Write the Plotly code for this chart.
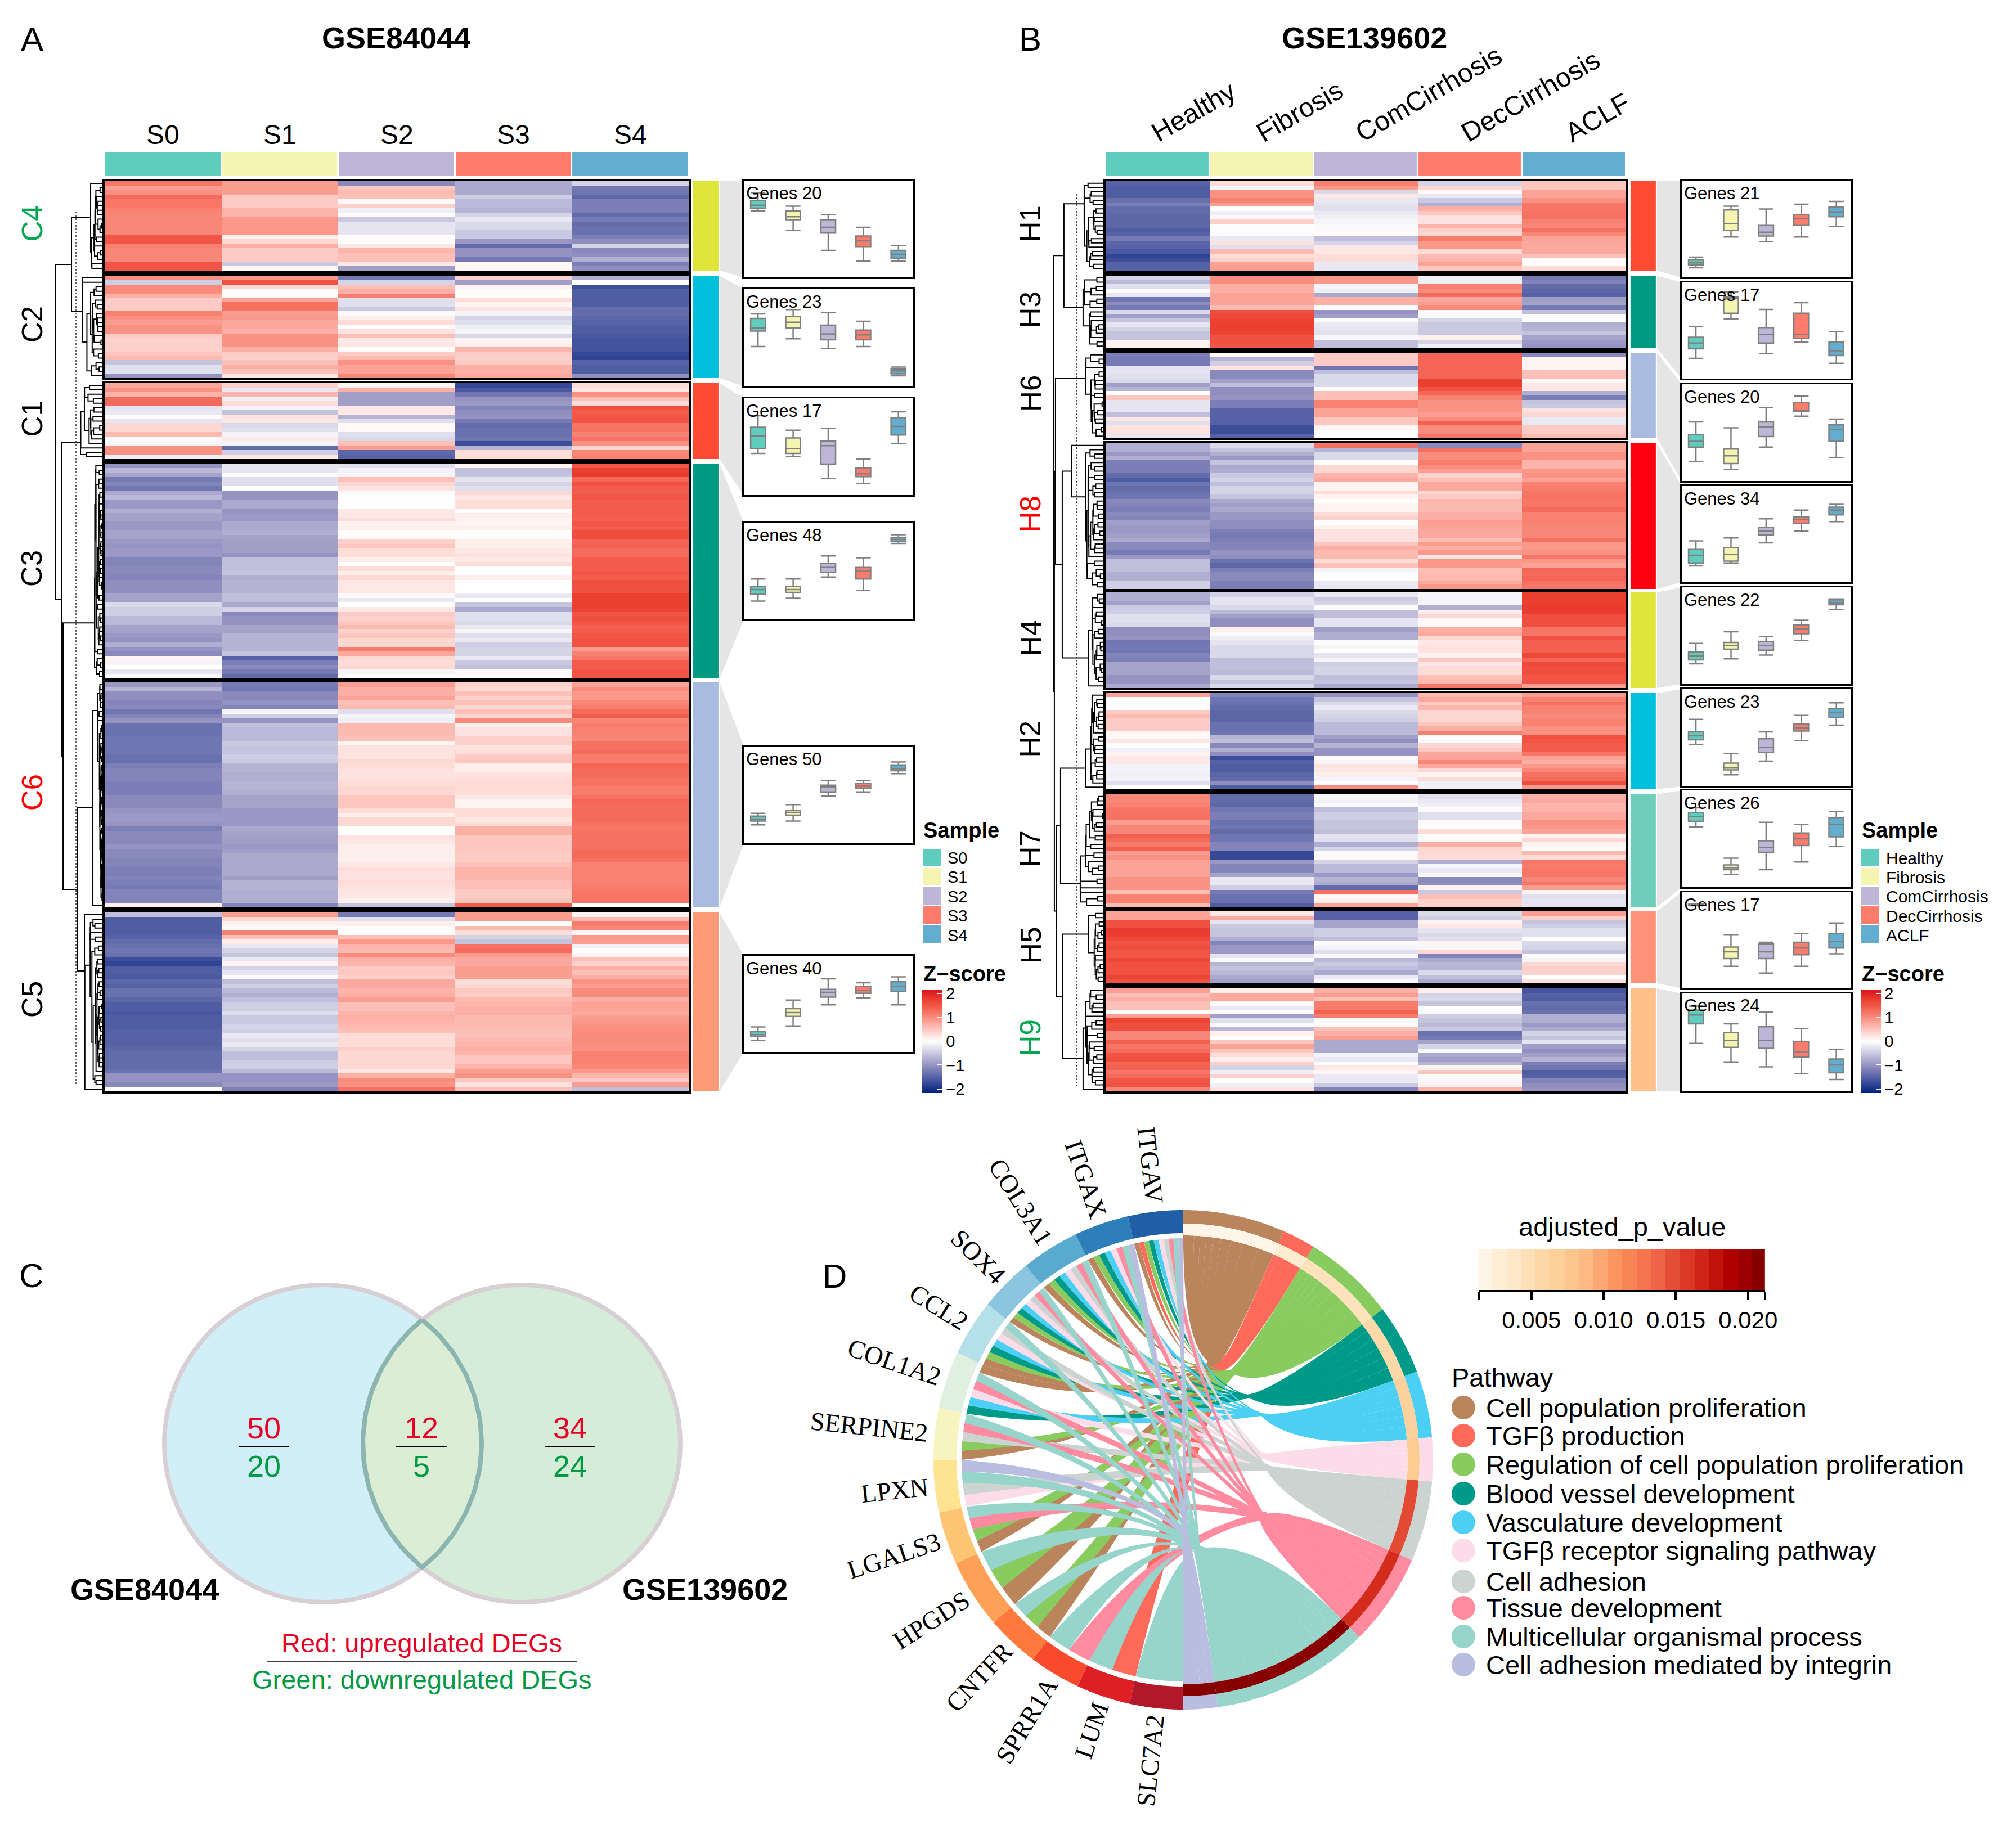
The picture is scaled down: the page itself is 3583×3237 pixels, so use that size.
import math
import numpy as np
import plotly.graph_objects as go
from plotly.colors import sample_colorscale

W, H = 3583, 3237
PAGE_PAD = 8          # the page keeps its default body margin around the figure
KX = .9939            # horizontal correction for the way the page is photographed
FW, FH = W - 2 * PAGE_PAD, H - 2 * PAGE_PAD
SANS = "Liberation Sans"
SERIF = "Liberation Serif"

# ---------------- data: sample groups ----------------
SAMPLES_A = ["S0", "S1", "S2", "S3", "S4"]
SAMPLES_B = ["Healthy", "Fibrosis", "ComCirrhosis", "DecCirrhosis", "ACLF"]
SAMPLE_COLORS = ["#5ECDBD", "#F5F4B0", "#BDB6D6", "#FF7B6B", "#63ADCF"]

# ---------------- data: heatmap rows (z-scores) ----------------
C4 = [[1.2,.85,-1.1,-.8,-.4],[.85,.85,.5,-.8,-1.25],[.95,.85,.6,-.8,-1.3],[1.3,.45,.55,-.45,-1.45],[1.2,.45,.05,-.65,-1.2],
[1.2,.45,.4,-.65,-1.2],[1.1,.65,-.15,-.7,-1.2],[1.05,.65,.03,-.4,-1.4],[1.05,.9,-.5,-.2,-1.25],[1.05,.9,-.25,-.35,-1.4],
[1.05,.9,-.25,-.35,-1.35],[1.05,.9,-.25,-.5,-1.35],[1.5,.15,.03,-.5,-1.2],[1.5,.35,.02,-.95,-1.05],[1.1,.7,.2,-1.4,-.4],
[1.05,.45,.65,-1.0,-1.1],[1.05,.45,.55,-1.0,-1.05],[1.05,.45,.55,-1.25,-.75],[1.5,-.5,.2,.07,-1.2],[1.5,.05,-.9,.07,-1.05]]
C2 = [[.95,.9,-1.25,.4,-.75],[-.45,1.55,-.4,-.9,0],[1.0,.35,.55,.1,-1.7],[1.0,.03,.7,.03,-1.55],[.7,.03,1.1,.03,-1.55],
[.45,.8,-.3,.3,-1.55],[.45,1.25,-.3,.1,-1.55],[.45,1.25,-.5,.25,-1.4],[1.1,.85,-.05,-.1,-1.4],[.95,.9,.15,-.4,-1.45],
[.85,.75,.3,-.3,-1.5],[.95,.75,.03,-.15,-1.55],[.95,.7,.25,-.1,-1.55],[.45,.95,.55,-.35,-1.6],[.4,.95,.2,.1,-1.65],
[.4,.95,.2,.15,-1.65],[.4,.7,.03,.65,-1.65],[.5,.45,.45,.45,-1.75],[.6,.4,.6,.4,-1.8],[-.55,.55,.95,.45,-1.5],
[-.3,.7,.8,.7,-1.55],[-.3,.55,.8,.7,-1.55],[-1.0,.2,1.05,.75,-1.05]]
C1 = [[.75,.4,.1,-1.75,.3],[.95,-.2,.7,-1.6,.2],[.65,.65,-.9,-1.3,.95],[1.3,-.15,-.9,-1.0,.55],[1.3,.3,-.9,-.95,.3],
[-.25,-.1,.2,-1.15,1.55],[-.2,-.55,.2,-1.05,1.45],[.03,.25,-.7,-1.0,1.5],[-.25,.2,-.3,-1.25,1.5],[.35,-.35,.05,-1.4,1.2],
[.35,-.3,.05,-1.35,1.25],[.6,-.1,-.3,-1.35,1.1],[-.05,.2,-.35,-1.3,1.25],[-.1,-.1,.55,-1.7,.95],[.95,-1.4,.85,-.7,.35],
[.95,-.45,-1.45,.3,1.05],[-.15,.2,-1.5,.3,1.1]]
C3 = [[-1.0,-.25,-.3,.1,1.5],[-.65,-.25,-.12,-.6,1.75],[-.85,-.05,-.1,-.55,1.8],[-1.25,-.3,.55,-.25,1.35],[-1.15,-.3,.35,-.4,1.55],
[-1.3,0,.25,-.3,1.45],[-.8,-1.0,-.05,.35,1.45],[-.65,-1.0,0,.2,1.5],[-.95,-.8,0,.3,1.45],[-.95,-.8,0,.3,1.45],
[-.75,-1.0,.2,0,1.45],[-.85,-.95,.2,.15,1.45],[-.85,-.95,.3,.1,1.4],[-.95,-.8,.1,.1,1.5],[-.95,-.8,.15,.15,1.45],
[-.85,-.75,0,0,1.6],[-.85,-.85,.05,.05,1.6],[-.95,-.9,.4,.15,1.35],[-1,-.9,.5,.15,1.4],[-.95,-.9,.3,.2,1.3],
[-.95,-1,.3,.25,1.3],[-1.15,-.6,.15,.2,1.45],[-1.15,-.6,0,.3,1.45],[-1.1,-.6,.3,0,1.45],[-1.1,-.55,.15,0,1.5],
[-1.15,-.75,.35,.15,1.45],[-1.05,-.7,.2,0,1.6],[-1.05,-.7,.2,0,1.55],[-1.05,-.7,.2,0,1.55],[-.85,-.6,.05,-.2,1.75],
[-.85,-.6,-.2,0,1.75],[-.35,-.8,0,-.55,1.75],[-.45,-.4,.2,-.8,1.7],[-.45,-1.1,.45,-.3,1.5],[-.65,-1,.4,-.3,1.6],
[-.65,-1,.5,-.35,1.5],[-.85,-.85,.6,-.2,1.4],[-.85,-.85,.4,-.1,1.45],[-.95,-.7,.5,-.3,1.5],[-1,-.7,.35,-.2,1.55],
[-.75,-.7,.35,-.45,1.55],[-1,-.7,1.15,-.4,.85],[-1.1,-.55,.75,-.4,1.1],[.1,-1.5,.35,-.2,1.2],[-.1,-1.2,.3,-.5,1.45],
[0,-1.1,.35,-.6,1.45],[-.25,-1.25,-.1,.05,1.5],[-.08,-1.4,0,.02,1.5]]
C6 = [[-.95,-1.25,.85,.4,.8],[-.7,-1.3,.7,.35,1.0],[-1.05,-1.1,.7,.55,.9],[-1.05,-1.1,.8,.4,.9],[-1.15,-1.0,.55,.55,1.05],
[-1.1,-1.15,.6,.35,1.15],[-1.3,-.1,-.3,.55,1.3],[-1.15,-.45,-.1,.35,1.45],[-1,-1,-.15,1.0,1.05],[-1.35,-.6,.6,.15,1.15],
[-1.35,-.65,.6,.25,1.1],[-1.35,-.65,.6,.25,1.1],[-1.3,-.65,.55,.4,1.05],[-1.3,-.5,.1,.4,1.25],[-1.3,-.55,.25,.25,1.25],
[-1.3,-.55,.25,.3,1.3],[-1.35,-.45,.25,.45,1.15],[-1.35,-.5,.35,.5,1.15],[-1.2,-.7,.3,.15,1.35],[-1.15,-.7,.25,.15,1.3],
[-1.15,-.75,.25,.25,1.3],[-1.15,-.75,.25,.3,1.25],[-1.2,-.7,.3,.3,1.25],[-1.2,-.7,.35,.3,1.15],[-1.2,-.75,.35,.3,1.15],
[-1.1,-.85,.5,.2,1.25],[-1.1,-.85,.5,.1,1.35],[-1.1,-.85,.5,.1,1.3],[-1,-.95,.3,.3,1.3],[-.95,-.95,.15,.3,1.3],
[-.95,-.95,.35,.2,1.3],[-1,-.95,.35,.3,1.25],[-1.2,-.8,.02,.7,1.2],[-1.1,-.85,.02,.7,1.25],[-1.1,-.9,.25,.5,1.25],
[-1.1,-.9,.2,.5,1.25],[-1.0,-.95,.15,.5,1.25],[-1.1,-.9,.15,.5,1.3],[-1.1,-.8,.15,.45,1.3],[-1.15,-.8,.15,.45,1.25],
[-1.15,-.8,.2,.55,1.1],[-1.2,-.8,.3,.65,1.1],[-1.2,-.8,.25,.65,1.1],[-1.15,-.9,.25,.65,1.1],[-1.2,-.7,.3,.55,1.1],
[-1.25,-.7,.25,.55,1.15],[-1.15,-.75,.2,.45,1.2],[-1.15,-.75,.2,.45,1.2],[-1.15,-.75,.15,.5,1.2],[.12,-1.15,-.55,1.45,0]]
C5 = [[-.6,.85,-1.25,.85,.12],[-1.55,.35,-.3,.85,.6],[-1.55,.12,.15,0,1.15],[-1.55,.03,.03,.6,1.05],[-1.55,1.1,0,.3,.08],
[-1.5,.55,.55,-.4,.9],[-1.4,.15,.9,-.55,.85],[-1.35,-.2,.65,1.25,-.15],[-1.3,-.4,.6,1.3,-.03],[-1.35,-.55,1.0,.85,.1],
[-1.7,-.2,.7,.75,.55],[-1.8,.1,.65,.75,.4],[-1.55,-.4,.45,.85,.7],[-1.55,-.25,.5,.85,.55],[-1.6,-.05,.4,.85,.7],
[-1.45,-.6,.75,.3,.95],[-1.5,-.45,.75,.35,.85],[-1.35,-.65,.65,.5,1.0],[-1.35,-.75,.7,.45,1.0],[-1.45,-.6,.85,.6,.7],
[-1.55,-.45,.55,.65,.8],[-1.55,-.45,.55,.7,.8],[-1.6,-.3,.65,.7,.75],[-1.55,-.5,.7,.6,.85],[-1.55,-.5,.65,.6,.9],
[-1.55,-.4,.6,.6,.95],[-1.5,-.45,.55,.55,1.0],[-1.5,-.2,.3,.55,1.0],[-1.5,-.3,.3,.6,1.0],[-1.5,-.2,.3,.65,1.0],
[-1.45,-.4,.4,.7,.95],[-1.4,-.6,.35,.65,1.1],[-1.4,-.6,.35,.5,1.1],[-1.4,-.45,.35,.5,1.1],[-1.4,-.45,.35,.65,1.05],
[-1.35,-.65,.2,.85,.9],[-1.0,-1.0,.7,.95,.65],[-1.0,-1.0,1.0,.5,.45],[-1.1,-.95,.95,.25,.85],[.03,-1.2,1.25,.55,-.6]]

H1 = [[-1.5,.3,1.1,-.4,.5],[-1.55,-.1,.9,.35,.5],[-1.55,.95,-.35,.05,.8],[-1.55,.95,.2,-.2,.8],[-1.35,1.1,-.2,-.5,.95],
[-1.2,.85,-.25,-.75,1.2],[-1.4,0,-.3,.7,1.2],[-1.4,-.15,-.2,.5,1.25],[-1.45,.05,-.15,.25,1.25],[-1.45,.4,-.1,.25,1.1],
[-1.45,-.02,-.05,.65,1.05],[-1.55,-.02,.05,.4,1.25],[-1.5,-.05,.02,.35,1.05],[-1.25,-.2,-.6,1.15,.8],[-1.45,.25,-.4,.9,.75],
[-1.5,-.3,.2,.9,.75],[-1.6,.6,.2,.3,.75],[-1.8,.3,.3,.6,.55],[-1.7,.4,.3,.65,.03],[-1.5,.8,-.2,.8,-.03],[-1.5,.85,-.2,.5,.3]]
H3 = [[-.4,1.0,.9,-.15,-1.25],[-.65,1.0,.9,-.15,-1.15],[-.3,.7,-.1,1.1,-1.4],[-.02,.7,-.15,1.0,-1.45],[-.2,.8,-.8,1.3,-1.5],
[-1.3,.8,.7,.75,-.9],[-1.05,.8,.7,.85,-.85],[-1.25,.6,.03,1.0,-1.25],[-.35,1.6,-1.0,.03,-.6],[-.9,1.65,-.9,-.05,-.05],
[-.55,1.7,-.02,-.4,-.02],[-.25,1.75,-.2,-.5,-.75],[-.4,1.75,-.25,-.5,-.7],[-.55,1.7,-.3,-.5,-.55],[-.55,1.55,-.08,.15,-.85],
[.12,1.55,-.6,-.4,-.95],[.12,1.5,-.6,-.15,-1.0]]
H6 = [[-1.2,.03,.45,1.35,-1.1],[-1.25,-.7,.45,1.35,.1],[-1.25,-.45,.45,1.35,.1],[-.25,.25,-1.3,1.35,.1],[-.25,-1.1,-.6,1.35,.55],
[-.3,-1.1,-.35,1.35,.55],[-.35,-.9,-.35,1.75,.07],[-.9,-.6,-.35,1.75,.2],[-.7,-1.05,.02,1.55,.2],[0,-1.05,.55,1.35,-.75],
[.5,-1.0,.55,1.1,-1.2],[-.25,-1.2,1.1,.95,-.55],[-.25,-1.2,1.1,.95,-.5],[-.25,-1.5,.8,.95,.25],[-.6,-1.5,.8,.85,.35],
[.2,-1.5,.5,1.0,-.2],[-.3,-1.5,.5,1.4,-.2],[.25,-1.7,.1,1.0,.45],[.25,-1.7,.02,1.0,.45],[-.2,-1.5,.02,1.2,.6]]
H8 = [[-.75,-.35,1.25,-1.1,.8],[-.75,-.55,-.7,1.25,.8],[-.95,-.75,-.35,1.0,.95],[-.75,-.95,-.35,1.0,.95],[-1.2,-.55,0,1.15,.65],
[-1.2,-.8,.35,1.0,.65],[-1.2,-.75,.35,.85,.9],[-1.4,-.5,.65,.4,.95],[-1.55,-.4,.75,.55,.8],[-1.3,-.6,.1,.75,1.1],
[-1.4,-.4,.1,.75,1.15],[-1.35,-.4,.3,.35,1.2],[-1.3,-.55,.1,.45,1.25],[-1.1,-.8,0,.65,1.2],[-1.15,-.9,.1,.6,1.2],
[-1.2,-.8,.1,.6,1.3],[-1.1,-.95,.3,.7,1.1],[-1.15,-.95,.4,.7,1.1],[-.9,-1.05,0,.85,1.1],[-.95,-1.05,.1,.8,1.05],
[-.95,-1.2,.25,.75,1.05],[-.9,-1.25,.25,.75,1.05],[-.8,-1.2,.25,.55,1.25],[-1.1,-1.15,.5,.85,.9],[-1.1,-1.15,.7,.7,.9],
[-1.25,-1.0,.6,.9,.95],[-.95,-1.05,.6,.2,1.2],[-.6,-1.35,.3,.9,.9],[-.6,-1.45,.55,.9,.8],[-.6,-1.2,-.1,.55,1.35],
[-.75,-1.1,-.02,.6,1.3],[-.75,-1.1,-.02,.6,1.35],[-.45,-1.2,-.2,.75,1.25],[-.45,-1.2,-.2,.9,1.2]]
H4 = [[-.75,-.45,-.2,-.1,1.75],[-.75,-.25,-.5,-.1,1.75],[-.9,-.25,-.4,-.1,1.75],[-.5,-.35,-.02,-.75,1.8],[-.45,-.65,-.6,.15,1.8],
[-.3,-.9,-.6,.35,1.6],[-.3,-1.05,-.25,.05,1.6],[-.35,-1.05,-.25,.05,1.6],[-1.05,.15,-.9,.7,1.2],[-1.05,-.05,-.75,.75,1.2],
[-1.0,-.15,-.75,.35,1.55],[-1.3,-.25,-.03,.2,1.4],[-1.25,-.35,-.1,.25,1.4],[-1.3,-.35,-.02,.25,1.4],[-1.15,-.35,-.25,.12,1.65],
[-1.2,-.6,-.1,.5,1.35],[-.85,-.6,-.45,.2,1.65],[-.85,-.6,-.4,.3,1.6],[-.85,-.65,-.4,.3,1.6],[-1.0,-.35,-.6,.55,1.5],
[-1.0,-.55,-.55,.6,1.5],[-.8,-.35,-.8,1.2,.85]]
H2 = [[.8,-1.15,-1.0,.6,.85],[0,-1.3,-.55,.75,1.1],[.03,-1.35,-.35,.45,1.25],[0,-1.4,-.2,.65,1.1],[.45,-1.45,-.35,.35,1.1],
[.6,-1.45,-.4,.35,1.0],[.45,-1.45,-.45,.35,1.1],[.45,-1.35,-.65,.5,1.1],[.45,-1.35,-.65,.7,.95],[.07,-1.3,-.65,1.1,.95],
[.07,-.7,-.9,0,1.55],[.2,-.6,-1.05,-.05,1.5],[-.03,-1.1,-.7,.35,1.45],[-.15,-.75,-1.0,.5,1.45],[.1,-1.05,-1.0,.75,1.2],
[.2,-1.7,.05,.8,.8],[.2,-1.5,-.1,1.05,.7],[-.12,-1.55,.25,.75,.9],[-.12,-1.55,.2,.35,1.05],[-.15,-1.45,.15,.1,1.25],
[-.12,-1.4,-.12,.3,1.3],[-.3,-1.05,0,-.15,1.6],[0,-1.55,1.0,-.15,.9]]
H7 = [[1.05,-1.4,-.1,-.3,.7],[1.05,-1.4,-.12,-.2,.75],[1.1,-1.45,-.05,-.15,.65],[1.2,-1.3,-.6,.05,.65],[1.25,-1.2,-.45,-.3,.75],
[1.25,-1.2,-.45,-.3,.75],[.85,-1.35,-.55,.05,.95],[1.05,-1.3,-.55,0,.9],[1.05,-1.4,-.6,.3,.8],[1.4,-1.3,-.25,.02,.1],
[1.3,-1.3,-.3,.02,.35],[1.15,-1.15,-.75,.7,.1],[1.4,-1.15,-.4,.35,.02],[.85,-1.75,-.05,.35,.6],[.95,-1.75,.08,.3,.3],
[.8,-.95,-.4,-.75,1.2],[.8,-1.15,-.65,-.1,1.15],[.8,-1.15,-.65,-.2,1.2],[.8,-.85,-.95,-.08,1.2],[.95,-.2,-.7,-1.1,1.05],
[.95,-.2,-.8,-1.05,1.2],[.95,-.45,-1.4,.12,.85],[.55,-1.25,1.25,-.5,.1],[1.1,-1.35,.08,.55,-.3],[1.1,-1.35,.15,.4,-.25],
[.6,-1.55,.8,.4,-.25]]
H5 = [[.8,.2,-1.5,-.35,.85],[.8,.75,-1.5,-.45,.4],[1.55,-.25,-.85,.12,-.55],[1.55,-.5,-.85,.2,-.45],[1.8,-.55,-.45,-.25,-.3],
[1.75,-.55,-.45,-.35,-.3],[1.65,-.75,-.6,-.3,0],[1.5,-1.15,-.03,.1,-.35],[1.6,-.95,-.1,-.08,-.4],[1.5,-.95,-.3,.35,-.55],
[1.5,-.25,-.07,-1.15,.03],[1.65,-.05,-.65,-.8,-.1],[1.55,-.7,-.5,-.65,.35],[1.55,-.55,-.6,-.7,.4],[1.55,-.65,-.8,-.35,.4],
[1.7,-.8,-.2,-.6,0],[1.55,-.9,-.07,-.8,.25]]
H9 = [[.85,.15,.7,.15,-1.65],[.55,.75,.85,-.4,-1.5],[.7,.75,.55,-.35,-1.55],[.55,.03,1.15,-.55,-1.35],[.55,-.2,1.15,0,-1.4],
[-.02,0,1.4,.05,-1.35],[.85,-.9,1.15,-.45,-.75],[1.7,-.3,.02,-.55,-.75],[1.6,-.05,.02,-.65,-.95],[1.6,-.65,.55,-.5,-.8],
[1.05,.12,.7,-1.35,-.4],[1.05,0,.85,-1.25,-.55],[1.4,.5,-.8,-.85,-.25],[1.2,.8,-.8,-.4,-.9],[1.3,.5,-.8,-.05,-1.05],
[1.5,.3,-.12,-.8,-.9],[1.6,.15,-.2,-.9,-.7],[1.35,.4,.02,-.7,-1.2],[1.4,-.4,.2,.12,-1.3],[1.2,-.15,.08,.5,-1.55],
[1.3,.4,-.2,-.02,-1.5],[1.5,0,-.2,-.07,-1.15],[1.55,-.15,-.5,.12,-1.05],[1.05,.25,-1.15,.65,-1.0]]

# ---------------- data: box summaries, one row per sample group ----------------
# columns: upper whisker, q3, median, q1, lower whisker; level measured downward from the panel top
BOX_C4 = [[12,20,25,28,31],[26,31,37,40,51],[35,40,48,54,72],[48,57,62,68,83],[67,72,76,80,83]]
BOX_C2 = [[25.5,30,40,43,59],[21,28,34,40,51],[24,37,46,52,61],[33,42,47,52,59],[80,82,84,87,89]]
BOX_C1 = [[18,30,39,52,57],[33,41,52,57,60],[31,44,49,68,83],[63,72,78,81,88],[14,20,29,38,47]]
BOX_C3 = [[58,66,69,74,81],[58,66,69,72,78],[34,42,46,51,56],[36,46,50,58,70],[12,15,17,19,21]]
BOX_C6 = [[69,72,75,77,81],[60,66,68,71,77],[35,40,42,47,51],[35,38,41,43,47],[16,19,23,25,28]]
BOX_C5 = [[74,79,82,84,88],[46,55,59,63,73],[24,35,38,43,51],[28,32,36,39,44],[22,27,32,37,51]]
BOX_H1 = [[79,82,85,87,90],[26,30,44,51,58],[29,46,53,57,63],[24,35,39,46,58],[21,27,32,37,47]]
BOX_H3 = [[46,57,63,69,79],[10,15,17,32,38],[28,47,54,63,74],[21,32,54,58,62],[51,62,71,76,84]]
BOX_H6 = [[39,52,59,65,80],[45,67,74,82,88],[24,39,44,54,65],[12,19,27,28,33],[36,42,47,59,76]]
BOX_H8 = [[57,66,72,80,83],[54,64,71,78,80],[34,43,47,51,59],[25,32,35,39,47],[19,22,25,30,37]]
BOX_H4 = [[58,67,71,75,79],[46,57,60,64,74],[51,56,60,65,70],[34,39,43,48,55],[12,13,16,18,23]]
BOX_H2 = [[31,44,48,52,57],[66,76,81,83,88],[44,51,60,65,74],[27,36,40,43,53],[14,20,24,29,37]]
BOX_H7 = [[18,23,27,32,38],[70,77,80,82,87],[33,52,59,64,82],[35,44,50,57,74],[22,28,35,48,58]]
BOX_H5 = [[12,12.5,13,13.5,14],[44,57,62,69,77],[52,54,62,69,84],[43,52,58,65,77],[32,43,51,58,64]]
BOX_H9 = [[13,17,22,31,51],[31,40,48,55,70],[19,34,48,56,75],[36,49,60,65,82],[57,67,73,81,88]]

# ---------------- data: venn ----------------
VENN_UP = [50, 12, 34]
VENN_DOWN = [20, 5, 24]

# ---------------- data: chord ----------------
PATHWAYS = ["Cell population proliferation", "TGF\u03b2 production", "Regulation of cell population proliferation",
            "Blood vessel development", "Vasculature development", "TGF\u03b2 receptor signaling pathway",
            "Cell adhesion", "Tissue development", "Multicellular organismal process", "Cell adhesion mediated by integrin"]
PATHWAY_COLORS = ["#BA845D", "#FF6A5A", "#88CC60", "#009B88", "#4CCFF5", "#FDDCEA", "#CBD4D0", "#FF8BA0", "#97D4CB", "#B9BDDF"]
PATHWAY_SPAN = [23.7, 7.7, 21.5, 16.4, 15.5, 10.2, 18.7, 21.5, 36.8, 8.0]
PATHWAY_P = [.0016, .0032, .0045, .0056, .0066, .0072, .0150, .0165, .0207, .0208]
GENES = ["SLC7A2", "LUM", "SPRR1A", "CNTFR", "HPGDS", "LGALS3", "LPXN", "SERPINE2", "COL1A2", "CCL2", "SOX4", "COL3A1", "ITGAX", "ITGAV"]
GENE_COLORS = ["#B21829", "#DE1F26", "#F94A2E", "#FD7A3C", "#FEA055", "#FEC574", "#FEE391", "#F7F4BF", "#DFF0E0", "#B5DFE9", "#8BC6DE", "#5AA9CF", "#2C7FB8", "#205EA8"]
GENE_SPAN = [12.4, 12.6, 12.0, 12.4, 16.1, 12.3, 12.2, 12.0, 13.4, 13.1, 12.5, 13.5, 12.7, 12.8]
GENE_LINKS = [[8], [1, 8], [7, 8], [0, 2, 8], [0, 2, 8], [0, 2, 7, 8], [5, 6, 8, 9], [0, 2, 6, 7, 8], [3, 4, 5, 7, 8, 0],
              [0, 2, 3, 4, 5, 6, 8], [0, 2, 3, 4, 5, 6, 7, 8], [0, 2, 3, 4, 5, 6, 7, 8], [0, 2, 3, 4, 5, 7, 8, 9], [0, 1, 2, 3, 4, 5, 6, 7, 8, 9]]
# point where the ribbons of each pathway gather: angle (clockwise from top) and radius
HUB_ANGLE = [17, 22, 28, 45, 59, 87, 95, 125, 170, 178]
HUB_RADIUS = [178, 178, 177, 161, 159, 143, 150, 174, 160, 130]
P_STEPS = [.0018, .0028, .0038, .0048, .0058, .0068, .0078, .0088, .0098, .0108, .0118, .0128, .0138, .0148, .0158, .0168, .0178, .0188, .0198, .0208]
P_TICKS = [.00134, .005, .010, .015, .020, .02117]
P_TICK_TEXT = ["", "0.005", "0.010", "0.015", "0.020", ""]

# ---------------- colour scales ----------------
zmax = 2.17
def st(v):
    return (v + zmax) / (2 * zmax)
ZSCALE = [[0, "#00207F"], [st(-1), "#9693C2"], [st(0), "#FFFFFF"], [st(1), "#FA8C7D"], [st(1.5), "#F25545"], [st(1.75), "#EA4030"], [1, "#D7101C"]]
ORRD = [[0, "#FFF7EC"], [.125, "#FEE8C8"], [.25, "#FDD49E"], [.375, "#FDBB84"], [.5, "#FC8D59"], [.625, "#EF6548"], [.75, "#D7301F"], [.875, "#B30000"], [1, "#7F0000"]]
SAMPLE_SCALE = []
for i, c in enumerate(SAMPLE_COLORS):
    SAMPLE_SCALE += [[i / 5, c], [(i + 1) / 5, c]]


def fx(x):
    return (x / KX - PAGE_PAD) / FW


def fy(y):
    return 1 - (y - PAGE_PAD) / FH


fig = go.Figure()
layout = dict(width=FW, height=FH, margin=dict(l=0, r=0, t=0, b=0), paper_bgcolor="white", plot_bgcolor="rgba(0,0,0,0)",
              showlegend=False, boxmode="overlay", font=dict(family=SANS, color="black"))
annotations, shapes = [], []
axis_count = [1]

hidden = dict(showgrid=False, zeroline=False, showticklabels=False, ticks="", showline=False)
layout["xaxis"] = dict(domain=[0, 1], range=[PAGE_PAD * KX, (W - PAGE_PAD) * KX], visible=False, **{"anchor": "y"})
layout["yaxis"] = dict(domain=[0, 1], range=[H - PAGE_PAD, PAGE_PAD], visible=False, **{"anchor": "x"})


def new_axes(x0, y0, x1, y1, xr, yr, frame=0, **xextra):
    axis_count[0] += 1
    n = axis_count[0]
    base = dict(hidden)
    if frame:
        base.update(showline=True, mirror=True, linecolor="black", linewidth=frame)
    xa = dict(base, domain=[fx(x0), fx(x1)], range=xr, anchor=f"y{n}")
    xa.update(xextra)
    ya = dict(base, domain=[fy(y1), fy(y0)], range=yr, anchor=f"x{n}")
    layout[f"xaxis{n}"] = xa
    layout[f"yaxis{n}"] = ya
    return f"x{n}", f"y{n}"


def text(x, y, s, size, color="black", bold=False, xanchor="center", angle=0, family=SANS, yanchor="middle"):
    annotations.append(dict(xref="paper", yref="paper", x=fx(x), y=fy(y), text=f"<b>{s}</b>" if bold else s,
                            showarrow=False, xanchor=xanchor, yanchor=yanchor, textangle=angle, borderpad=0,
                            font=dict(family=family, size=size, color=color)))


def rect(x0, y0, x1, y1, color):
    shapes.append(dict(type="rect", xref="paper", yref="paper", x0=fx(x0), x1=fx(x1), y0=fy(y0), y1=fy(y1),
                       fillcolor=color, line=dict(width=0), layer="below"))


def poly(pts, color):
    d = "M " + " L ".join(f"{fx(px):.5f},{fy(py):.5f}" for px, py in pts) + " Z"
    shapes.append(dict(type="path", xref="paper", yref="paper", path=d, fillcolor=color, line=dict(width=0), layer="below"))


def row_tree(rows, y0, y1, x_right, x_root, seg_x, seg_y):
    """Join neighbouring rows by their distance and draw the result as a dendrogram."""
    rh = (y1 - y0) / len(rows)
    nodes = [dict(y=y0 + (i + .5) * rh, h=0.0, v=np.array(r, float), n=1) for i, r in enumerate(rows)]
    merges = []
    while len(nodes) > 1:
        ds = [np.linalg.norm(nodes[i]["v"] - nodes[i + 1]["v"]) for i in range(len(nodes) - 1)]
        i = int(np.argmin(ds))
        a, b = nodes[i], nodes[i + 1]
        h = max(ds[i], a["h"], b["h"]) + .02
        m = dict(y=(a["y"] + b["y"]) / 2, h=h, n=a["n"] + b["n"], v=(a["v"] * a["n"] + b["v"] * b["n"]) / (a["n"] + b["n"]))
        merges.append((a, b, m))
        nodes[i:i + 2] = [m]
    top = nodes[0]["h"]
    hx = lambda hh: x_right - (x_right - x_root) * (hh / top) ** .6
    for a, b, m in merges:
        seg_x += [hx(a["h"]), hx(m["h"]), hx(m["h"]), hx(b["h"]), None]
        seg_y += [a["y"], a["y"], b["y"], b["y"], None]
    return hx(nodes[0]["h"]), nodes[0]["y"]


def top_tree(spec, roots, seg_x, seg_y):
    if isinstance(spec, str):
        return roots[spec]
    x, l, r = spec
    xa, ya = top_tree(l, roots, seg_x, seg_y)
    xb, yb = top_tree(r, roots, seg_x, seg_y)
    seg_x += [xa, x, x, xb, None]
    seg_y += [ya, ya, yb, yb, None]
    return x, (ya + yb) / 2


def panel(cfg):
    x0, x1 = cfg["x"]
    seg_x, seg_y = [], []
    roots = {}
    xa, ya = new_axes(x0, 271, x1, 312, [-.5, 4.5], [-.5, .5])
    fig.add_trace(go.Heatmap(z=[[0, 1, 2, 3, 4]], x=[0, 1, 2, 3, 4], y=[0], colorscale=SAMPLE_SCALE, zmin=0, zmax=5 - 1e-9,
                             showscale=False, xgap=3, hoverinfo="skip", xaxis=xa, yaxis=ya))
    for name, rows, (y0, y1), rootx, color, lc, bx, boxes, (py0, py1) in cfg["clusters"]:
        xa, ya = new_axes(x0, y0, x1, y1, [-.5, 4.5], [len(rows) - .5, -.5], frame=3.5)
        fig.add_trace(go.Heatmap(z=rows, coloraxis=cfg["ca"], hoverinfo="skip", xaxis=xa, yaxis=ya))
        roots[name] = row_tree(rows, y0, y1, x0 - 2, rootx, seg_x, seg_y)
        text(cfg["lab_x"], (y0 + y1) / 2 - 4, name, 51, color=lc, angle=-90)
        sx0, sx1 = cfg["side"]
        rect(sx0, y0, sx1, y1, color)
        bx0, bx1 = cfg["bx"]
        poly([(sx1 + 2, y0), (bx0, py0), (bx0, py1), (sx1 + 2, y1)], "#E5E5E5")
        xa, ya = new_axes(bx0, py0, bx1, py1, [-.405, 4.42], [0, 100], frame=3)
        for i, b in enumerate(boxes):
            fig.add_trace(go.Box(x=[i], upperfence=[100 - b[0]], q3=[100 - b[1]], median=[100 - b[2]], q1=[100 - b[3]],
                                 lowerfence=[100 - b[4]], width=.42, whiskerwidth=1, fillcolor=SAMPLE_COLORS[i],
                                 line=dict(color="#808080", width=2.5), hoverinfo="skip", xaxis=xa, yaxis=ya))
        text(bx0 + 3, py0 + 22, f"Genes {len(rows)}", 31, xanchor="left")
    top_tree(cfg["tree"], roots, seg_x, seg_y)
    fig.add_trace(go.Scatter(x=seg_x, y=seg_y, mode="lines", line=dict(color="black", width=2), hoverinfo="skip"))
    fig.add_trace(go.Scatter(x=[cfg["dot"]] * 2, y=[cfg["dot_top"], 1930], mode="lines", line=dict(color="#333333", width=1.5, dash="dot"), hoverinfo="skip"))
    # legends
    lx = cfg["leg_x"]
    text(lx, 1476, "Sample", 38, bold=True, xanchor="left")
    xa, ya = new_axes(lx, 1508, lx + 32, 1678, [-.5, .5], [4.5, -.5])
    fig.add_trace(go.Heatmap(z=[[0], [1], [2], [3], [4]], colorscale=SAMPLE_SCALE, zmin=0, zmax=5 - 1e-9, showscale=False,
                             ygap=3, hoverinfo="skip", xaxis=xa, yaxis=ya))
    for i, s in enumerate(cfg["samples"]):
        text(lx + 43, 1525 + 34.4 * i, s, 29 if cfg["ca"] == "coloraxis" else 30, xanchor="left")
    text(lx, 1731, "Z\u2212score", 38, bold=True, xanchor="left")
    layout[cfg["ca"]] = dict(colorscale=ZSCALE, cmin=-zmax, cmax=zmax, colorbar=dict(
        x=fx(lx - 1), xanchor="left", y=fy(1759), yanchor="top", len=184, lenmode="pixels", thickness=36, thicknessmode="pixels",
        outlinewidth=0, xpad=0, ypad=0, ticks="inside", ticklen=9, tickwidth=2, tickcolor="white", tickvals=[-2, -1, 0, 1, 2],
        tickfont=dict(family=SANS, size=29, color="black")))
    # column titles
    cw = (x1 - x0) / 5
    for i, s in enumerate(cfg["samples"]):
        if cfg["rot"]:
            text(cfg["rot"][i], 264, s, 48, xanchor="left", yanchor="bottom", angle=-30)
        else:
            text(x0 + cw * (i + .5), 239, s, 48)


panel(dict(x=(186, 1224), side=(1232, 1277), bx=(1322, 1623), lab_x=57, ca="coloraxis", samples=SAMPLES_A, rot=None,
           leg_x=1640, dot=135, dot_top=376,
           tree=(98, (127, "C4", "C2"), (109, "C1", (112, "C3", (137, "C6", "C5")))),
           clusters=[("C4", C4, (322, 481), 161, "#DFE53B", "#00A651", 0, BOX_C4, (322, 493)),
                     ("C2", C2, (490, 672), 146, "#00C0DE", "black", 0, BOX_C2, (514, 687)),
                     ("C1", C1, (681, 816), 143, "#FF4B33", "black", 0, BOX_C1, (708, 880)),
                     ("C3", C3, (824, 1206), 168, "#009B82", "black", 0, BOX_C3, (930, 1101)),
                     ("C6", C6, (1213, 1613), 165, "#A9BCE0", "#FF0000", 0, BOX_C6, (1327, 1499)),
                     ("C5", C5, (1622, 1940), 150, "#FF9A76", "black", 0, BOX_C5, (1699, 1870))]))

panel(dict(x=(1965, 2890), side=(2898, 2943), bx=(2989, 3290), lab_x=1832, ca="coloraxis2", samples=SAMPLES_B,
           rot=[2036, 2223, 2399, 2587, 2772], leg_x=3308, dot=1914, dot_top=345,
           tree=(1873, (1891, "H1", "H3"), (1874, (1876, "H6", (1888, "H8", "H4")), (1878, (1885, "H2", "H7"), (1889, "H5", "H9")))),
           clusters=[("H1", H1, (322, 481), 1927, "#FF4B33", "black", 0, BOX_H1, (322, 493)),
                     ("H3", H3, (490, 619), 1925, "#009B82", "black", 0, BOX_H3, (502, 673)),
                     ("H6", H6, (627, 779), 1930, "#A9BCE0", "black", 0, BOX_H6, (683, 855)),
                     ("H8", H8, (788, 1047), 1905, "#FF0010", "#FF0000", 0, BOX_H8, (864, 1035)),
                     ("H4", H4, (1053, 1223), 1935, "#DFE53B", "black", 0, BOX_H4, (1044, 1216)),
                     ("H2", H2, (1232, 1403), 1930, "#00C0DE", "black", 0, BOX_H2, (1225, 1398)),
                     ("H7", H7, (1412, 1613), 1920, "#6FCDBB", "black", 0, BOX_H7, (1405, 1577)),
                     ("H5", H5, (1620, 1748), 1935, "#FF9277", "black", 0, BOX_H5, (1586, 1757)),
                     ("H9", H9, (1757, 1940), 1925, "#FFC08A", "#00A651", 0, BOX_H9, (1766, 1940))]))

# panel titles and letters
text(704, 67, "GSE84044", 54, bold=True)
text(2425, 67, "GSE139602", 54, bold=True)
for s, x, y in [("A", 57, 70), ("B", 1831, 70), ("C", 55, 2267), ("D", 1484, 2268)]:
    text(x, y, s, 60)

# ---------------- panel C ----------------
def circle(cx, cy, r, fill, line, width):
    return dict(type="circle", xref="x", yref="y", x0=cx - r, x1=cx + r, y0=cy - r, y1=cy + r, fillcolor=fill, line=dict(color=line, width=width), layer="below")

V1, V2, VY, VR = 574, 927, 2566, 282
half = (V2 - V1) / 2
vh = math.sqrt(VR ** 2 - half ** 2)
a = math.asin(vh / VR)
ts = np.linspace(-a, a, 60)
lens_x = list(V1 + VR * np.cos(ts)) + list(V2 - VR * np.cos(ts[::-1]))
lens_y = list(VY + VR * np.sin(ts)) + list(VY + VR * np.sin(ts[::-1]))
shapes.append(circle(V1, VY, VR, "#D2EEF6", "#D8CFD5", 8))
shapes.append(circle(V2, VY, VR, "#D5EDD8", "#D8CFD5", 8))
fig.add_trace(go.Scatter(x=lens_x + lens_x[:1], y=lens_y + lens_y[:1], mode="none", fill="toself", fillcolor="#DBEDD5", hoverinfo="skip"))
fig.add_trace(go.Scatter(x=lens_x + lens_x[:1], y=lens_y + lens_y[:1], mode="lines", line=dict(color="#8AB5B0", width=8), hoverinfo="skip"))
for up, dn, x in zip(VENN_UP, VENN_DOWN, [469, 749, 1013]):
    text(x, 2538, str(up), 54, color="#E60026")
    text(x, 2606, str(dn), 54, color="#009A44")
    fig.add_trace(go.Scatter(x=[x - 45, x + 45], y=[2571, 2571], mode="lines", line=dict(color="black", width=2), hoverinfo="skip"))
text(257, 2825, "GSE84044", 54, bold=True)
text(1253, 2825, "GSE139602", 54, bold=True)
text(750, 2920, "Red: upregulated DEGs", 47, color="#E60026")
text(750, 2985, "Green: downregulated DEGs", 47, color="#009A44")
fig.add_trace(go.Scatter(x=[475, 1025], y=[2953, 2953], mode="lines", line=dict(color="black", width=1.5), hoverinfo="skip"))

# ---------------- panel D ----------------
CX, CY, SPAN = 2103, 2595, 460
xa, ya = new_axes(CX - SPAN, CY - SPAN, CX + SPAN, CY + SPAN, [-SPAN, SPAN], [-SPAN, SPAN])
RO, RM, RI = 444, 420, 399
RG = 403
RL = 394


def polar(r, deg):
    t = np.radians(deg)
    return r * np.sin(t), r * np.cos(t)


def ring(a0, a1, r0, r1, color):
    ang = np.linspace(a0, a1, 40)
    x0, y0 = polar(r1, ang)
    x1, y1 = polar(r0, ang[::-1])
    fig.add_trace(go.Scatter(x=np.r_[x0, x1, x0[:1]], y=np.r_[y0, y1, y0[:1]], mode="none", fill="toself", fillcolor=color,
                             hoverinfo="skip", xaxis=xa, yaxis=ya))


path_start = np.r_[0, np.cumsum(PATHWAY_SPAN)]
gene_start = 180 + np.r_[0, np.cumsum(GENE_SPAN)]
# weight of a link: each gene shares its arc equally among its pathways
link_w = {}
for g, links in enumerate(GENE_LINKS):
    for p in links:
        link_w[(g, p)] = 1 / len(links)
path_total = [sum(w for (g, p), w in link_w.items() if p == k) for k in range(10)]
# pathway arcs: genes nearest the top come first
path_arc = {}
for k in range(10):
    pos = path_start[k]
    for g in range(len(GENES) - 1, -1, -1):
        if (g, k) in link_w:
            w = PATHWAY_SPAN[k] * link_w[(g, k)] / path_total[k]
            path_arc[(g, k)] = (pos, pos + w)
            pos += w
gene_arc = {}
for g, links in enumerate(GENE_LINKS):
    pos = gene_start[g]
    w = GENE_SPAN[g] / len(links)
    for p in links:
        gene_arc[(g, p)] = (pos, pos + w)
        pos += w


def bez(p0, ctrl, p2, n=28):
    t = np.linspace(0, 1, n)[:, None]
    return (1 - t) ** 2 * np.array(p0) + 2 * (1 - t) * t * np.array(ctrl) + t ** 2 * np.array(p2)


def edge(g_pt, hub, p_pt):
    """One side of a ribbon: gene arc -> gathering point -> pathway arc."""
    g_pt, hub, p_pt = np.array(g_pt), np.array(hub), np.array(p_pt)
    first = bez(g_pt, .35 * g_pt + .15 * hub, hub)
    second = bez(hub, .5 * p_pt, p_pt)
    return np.vstack([first, second[1:]])


for k in range(10):
    hx0, hy0 = polar(HUB_RADIUS[k], HUB_ANGLE[k])
    tx, ty = polar(1, HUB_ANGLE[k] + 90)
    for g in range(len(GENES)):
        if (g, k) not in link_w:
            continue
        a0, a1 = gene_arc[(g, k)]
        b0, b1 = path_arc[(g, k)]
        ga = np.linspace(a0, a1, 12)
        pa = np.linspace(b0, b1, max(12, int((b1 - b0) * 2)))
        gx, gy = polar(RL, ga)
        px, py = polar(RI, pa)
        wid = min(10, (a1 - a0) * 6.88 * .3)
        e1 = edge((gx[-1], gy[-1]), (hx0 - tx * wid, hy0 - ty * wid), (px[0], py[0]))
        e2 = edge((gx[0], gy[0]), (hx0 + tx * wid, hy0 + ty * wid), (px[-1], py[-1]))[::-1]
        fig.add_trace(go.Scatter(x=np.r_[gx, e1[:, 0], px, e2[:, 0]], y=np.r_[gy, e1[:, 1], py, e2[:, 1]], mode="none", fill="toself",
                                 fillcolor=PATHWAY_COLORS[k], hoverinfo="skip", xaxis=xa, yaxis=ya))

p_min, p_max = .0013, .0212
for k in range(10):
    ring(path_start[k], path_start[k + 1], RM, RO, PATHWAY_COLORS[k])
    c = sample_colorscale(ORRD, [(PATHWAY_P[k] - p_min) / (p_max - p_min)])[0]
    ring(path_start[k], path_start[k + 1], RI, RM, c)
EM = dict(zip("ABCDEFGHIJKLMNOPQRSTUVWXYZ", [.722, .667, .667, .722, .611, .556, .722, .722, .333, .389, .722, .611, .889, .722, .722, .556, .722, .667, .556, .611, .722, .722, .944, .722, .722, .611]))
GENE_FONT = 46
for g, name in enumerate(GENES):
    ring(gene_start[g], gene_start[g + 1], RG, RO, GENE_COLORS[g])
    mid = (gene_start[g] + gene_start[g + 1]) / 2
    tw = sum(EM.get(ch, .5) for ch in name) * GENE_FONT
    lx, ly = polar(RO + 12 + tw / 2, mid)
    text(CX + lx, CY - ly, name, GENE_FONT, family=SERIF, angle=mid - 270)

# pathway legend
LEG_Y = [2502, 2552, 2603, 2655, 2706, 2756, 2811, 2858, 2909, 2959]
text(2579, 2448, "Pathway", 47, xanchor="left")
fig.add_trace(go.Scatter(x=[2601] * 10, y=LEG_Y, mode="markers", marker=dict(size=42, color=PATHWAY_COLORS, line=dict(width=0)), hoverinfo="skip"))
for y, s in zip(LEG_Y, PATHWAYS):
    text(2640, y, s, 47, xanchor="left")

# adjusted p-value bar
xa, ya = new_axes(2628, 2221, 3137, 2293, [P_TICKS[0], P_TICKS[-1]], [-.5, .5], tickvals=P_TICKS, ticktext=P_TICK_TEXT,
                  ticks="outside", ticklen=14, tickwidth=4, tickcolor="black", showticklabels=True, showline=True, linewidth=4, linecolor="black",
                  tickfont=dict(family=SANS, size=42, color="black"))
fig.add_trace(go.Heatmap(z=[P_STEPS], x=P_STEPS, y=[0], colorscale=ORRD, zmin=p_min, zmax=p_max, showscale=False, hoverinfo="skip", xaxis=xa, yaxis=ya))
text(2883, 2180, "adjusted_p_value", 47)

layout["annotations"] = annotations
layout["shapes"] = shapes
fig.update_layout(**layout)
fig.write_html("out.html", config=dict(displayModeBar=False))
